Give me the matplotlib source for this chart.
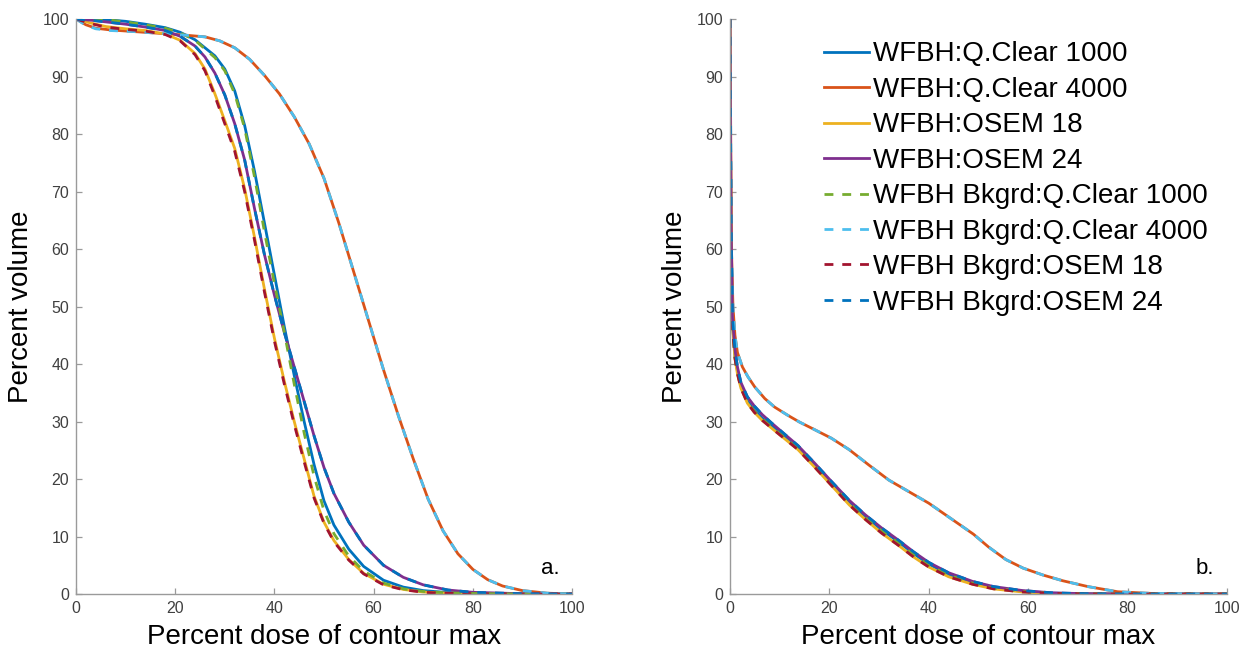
import matplotlib
matplotlib.use("Agg")
import matplotlib.pyplot as plt

plt.rcParams["font.family"] = ["Liberation Sans", "DejaVu Sans"]

# ---- panel a: cumulative DVH, whole contour ----
LX_QC4 = [0, 2, 4, 7, 12, 17, 22, 26, 29, 32, 35, 38, 41, 44, 47, 50, 53, 56, 59, 62,
          65, 68, 71, 74, 77, 80, 83, 86, 90, 95, 100]
A_QC4000 = [100, 99.0, 98.4, 98.1, 97.8, 97.5, 97.2, 96.9, 96.2, 95.0, 93.0, 90.2, 87.0,
            83.0, 78.3, 72.3, 64.5, 56.0, 47.5, 39.0, 31.0, 23.5, 16.5, 11.0, 7.0, 4.3,
            2.5, 1.4, 0.6, 0.15, 0]
A_BQC4000 = [100, 98.9, 98.3, 98.0, 97.8, 97.5, 97.2, 96.9, 96.2, 95.0, 93.0, 90.2, 87.0,
             83.0, 78.3, 72.3, 64.5, 56.0, 47.5, 39.0, 31.0, 23.5, 16.5, 11.0, 7.0, 4.3,
             2.5, 1.4, 0.6, 0.15, 0]

LX = [0, 3, 6, 10, 14, 18, 21, 24, 26, 28, 30, 32, 34, 36, 38, 40, 42, 44, 46, 48, 50,
      52, 55, 58, 62, 66, 70, 75, 80, 90, 100]
A_QC1000 = [100, 100, 99.9, 99.6, 99.1, 98.5, 97.7, 96.4, 95.0, 93.6, 91.3, 87.5, 81.5,
            73.5, 64.5, 55.5, 46.5, 38.0, 30.0, 22.5, 16.2, 12.0, 7.8, 4.8, 2.4, 1.2, 0.6,
            0.25, 0.1, 0, 0]
A_BQC1000 = [100, 100, 99.9, 99.5, 99.0, 98.4, 97.6, 96.3, 94.8, 93.3, 91.0, 87.0, 81.0,
             72.5, 63.0, 54.0, 45.5, 36.5, 28.0, 20.5, 14.5, 10.5, 6.6, 4.0, 1.9, 0.9,
             0.45, 0.2, 0.1, 0, 0]
A_OSEM18 = [100, 99.3, 98.7, 98.3, 98.0, 97.4, 96.3, 94.0, 91.3, 87.0, 82.3, 77.5, 70.5,
            62.0, 53.0, 44.5, 37.0, 30.0, 23.5, 17.0, 12.5, 9.3, 6.0, 3.6, 1.7, 0.8, 0.35,
            0.15, 0.05, 0, 0]
A_BOSEM18 = [100, 99.2, 98.6, 98.2, 97.9, 97.3, 96.2, 93.8, 91.0, 86.6, 81.8, 77.0, 70.0,
             61.5, 52.5, 44.0, 36.5, 29.5, 23.0, 16.7, 12.3, 9.1, 5.9, 3.5, 1.6, 0.75,
             0.3, 0.12, 0.04, 0, 0]
A_OSEM24 = [100, 99.8, 99.5, 99.1, 98.6, 98.0, 97.0, 95.3, 93.4, 90.6, 86.8, 81.8, 75.5,
            67.0, 59.0, 52.0, 45.5, 39.5, 33.5, 27.5, 22.0, 17.5, 12.5, 8.5, 5.0, 2.9, 1.6,
            0.7, 0.3, 0.05, 0]
A_BOSEM24 = [100, 99.8, 99.5, 99.1, 98.6, 98.0, 97.0, 95.3, 93.4, 90.6, 86.8, 81.8, 75.5,
             67.0, 59.0, 52.0, 45.5, 39.5, 33.5, 27.5, 22.0, 17.5, 12.5, 8.5, 5.0, 2.9,
             1.6, 0.7, 0.3, 0.05, 0]

# ---- panel b: cumulative DVH, background region ----
RX_QC4 = [0, 0.3, 0.6, 1, 1.5, 2.5, 3.6, 5, 7, 9, 11.6, 14, 17, 20.4, 24, 28, 32, 36, 40,
          43, 46, 49, 52, 55.5, 59, 63, 67, 72, 78, 85, 100]
B_QC4000 = [100, 60, 50, 45, 42, 39.5, 37.8, 36, 34, 32.5, 31.1, 29.9, 28.6, 27.1, 25.1,
            22.4, 19.8, 17.8, 15.8, 14, 12.2, 10.4, 8.2, 6, 4.5, 3.3, 2.3, 1.3, 0.4, 0.1, 0]
B_BQC4000 = B_QC4000

RX = [0, 0.2, 0.5, 1, 1.5, 2.2, 3.5, 4.9, 6.5, 8.3, 11, 13.7, 17, 20.4, 24, 27.2, 30.5, 34,
      37, 40, 44, 48.8, 53, 58.9, 65, 72, 80, 100]
B_QC1000 = [100, 64, 47, 41.5, 38.8, 36.2, 33.6, 32.0, 30.6, 29.3, 27.4, 25.5, 22.5, 19.3,
            16.0, 13.5, 11.2, 9.0, 7.0, 5.2, 3.4, 2.0, 1.1, 0.5, 0.15, 0.05, 0, 0]
B_BQC1000 = [100, 63.5, 46.5, 41.2, 38.5, 36.0, 33.4, 31.8, 30.4, 29.1, 27.2, 25.3, 22.3,
             19.1, 15.8, 13.3, 11.0, 8.8, 6.8, 5.0, 3.3, 1.9, 1.0, 0.45, 0.12, 0.04, 0, 0]
B_OSEM18 = [100, 63, 46.5, 41, 38.3, 35.8, 33.2, 31.6, 30.2, 28.9, 27.0, 25.1, 22.1, 18.9,
            15.5, 13.0, 10.6, 8.4, 6.4, 4.7, 3.0, 1.7, 0.9, 0.35, 0.1, 0, 0, 0]
B_BOSEM18 = B_OSEM18
B_OSEM24 = [100, 65, 48, 42.5, 39.5, 36.8, 34.3, 32.7, 31.2, 29.8, 27.8, 25.8, 22.8, 19.6,
            16.3, 13.8, 11.5, 9.3, 7.3, 5.5, 3.7, 2.2, 1.3, 0.6, 0.2, 0.05, 0, 0]
B_BOSEM24 = B_OSEM24

LABELS = ["WFBH:Q.Clear 1000", "WFBH:Q.Clear 4000", "WFBH:OSEM 18", "WFBH:OSEM 24",
          "WFBH Bkgrd:Q.Clear 1000", "WFBH Bkgrd:Q.Clear 4000", "WFBH Bkgrd:OSEM 18",
          "WFBH Bkgrd:OSEM 24"]
COLORS = ["#0072BD", "#D95319", "#EDB120", "#7E2F8E",
          "#77AC30", "#4DBEEE", "#A2142F", "#0072BD"]
STYLES = ["-"] * 4 + ["--"] * 4

panel_a = [(LX, A_QC1000), (LX_QC4, A_QC4000), (LX, A_OSEM18), (LX, A_OSEM24),
           (LX, A_BQC1000), (LX_QC4, A_BQC4000), (LX, A_BOSEM18), (LX, A_BOSEM24)]
panel_b = [(RX, B_QC1000), (RX_QC4, B_QC4000), (RX, B_OSEM18), (RX, B_OSEM24),
           (RX, B_BQC1000), (RX_QC4, B_BQC4000), (RX, B_BOSEM18), (RX, B_BOSEM24)]

AXIS_GRAY = "#9a9a9a"
TICK_GRAY = "#404040"


def draw(ax, series, tag):
    for (x, y), lab, col, ls in zip(series, LABELS, COLORS, STYLES):
        line, = ax.plot(x, y, color=col, linestyle=ls, lw=2.0, label=lab)
        if ls == "--":
            line.set_dashes((3.2, 3.2))
    ax.set_xlim(0, 100)
    ax.set_ylim(0, 100)
    ax.set_xticks(range(0, 101, 20))
    ax.set_yticks(range(0, 101, 10))
    for side in ("top", "right"):
        ax.spines[side].set_visible(False)
    for side in ("left", "bottom"):
        ax.spines[side].set_color(AXIS_GRAY)
        ax.spines[side].set_linewidth(1.0)
    ax.tick_params(direction="in", length=4, width=0.9, color=AXIS_GRAY,
                   labelcolor=TICK_GRAY, labelsize=11.5, pad=5)
    ax.set_xlabel("Percent dose of contour max", fontsize=20, labelpad=6)
    ax.set_ylabel("Percent volume", fontsize=20, labelpad=6)
    ax.text(0.956, 0.045, tag, transform=ax.transAxes, fontsize=16,
            ha="center", va="center")


fig = plt.figure(figsize=(12.44, 6.54), dpi=100)
ax1 = fig.add_axes([0.0611, 0.0917, 0.3987, 0.8792])
ax2 = fig.add_axes([0.5868, 0.0917, 0.3995, 0.8792])
draw(ax1, panel_a, "a.")
draw(ax2, panel_b, "b.")

ax2.legend(loc="upper left", bbox_to_anchor=(0.189, 0.961), frameon=False,
           fontsize=20, handlelength=1.62, handletextpad=0.15, labelspacing=0.34,
           borderpad=0, borderaxespad=0)

fig.savefig("out.png", dpi=100)
